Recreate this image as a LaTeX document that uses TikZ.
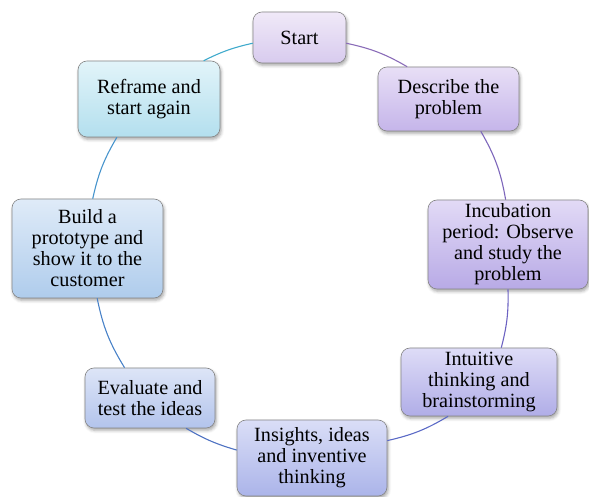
\documentclass[tikz,border=0pt]{standalone}
\usepackage{fontspec}
\setmainfont{Liberation Serif}
\usetikzlibrary{shadows.blur}

% box fills (top / bottom of each vertical gradient)
\definecolor{boxedge}{HTML}{858585}
\definecolor{startT}{HTML}{F0E9F8}\definecolor{startB}{HTML}{D8CBEE}
\definecolor{descT}{HTML}{E8DFF6}\definecolor{descB}{HTML}{C5B5EA}
\definecolor{incT}{HTML}{E2DAF6}\definecolor{incB}{HTML}{B8AAE6}
\definecolor{intT}{HTML}{DEDCF7}\definecolor{intB}{HTML}{B0ADE7}
\definecolor{insT}{HTML}{DADEF7}\definecolor{insB}{HTML}{ABB4E9}
\definecolor{evaT}{HTML}{DDE5F7}\definecolor{evaB}{HTML}{B3C4EC}
\definecolor{bldT}{HTML}{DFEBF8}\definecolor{bldB}{HTML}{AFCCEC}
\definecolor{refT}{HTML}{E2F4F9}\definecolor{refB}{HTML}{B3DFEE}
% arc colours, purple through blue to cyan
\definecolor{arcA}{HTML}{8A6CB8}
\definecolor{arcB}{HTML}{7D66BB}
\definecolor{arcC}{HTML}{6C62C2}
\definecolor{arcD}{HTML}{5A69C6}
\definecolor{arcE}{HTML}{4E72C2}
\definecolor{arcF}{HTML}{4982C8}
\definecolor{arcG}{HTML}{4794CC}
\definecolor{arcH}{HTML}{3FAACC}

\begin{document}
\begin{tikzpicture}[x=1pt,y=1pt,
  stage/.style={draw=boxedge, line width=0.6pt, rounded corners=9pt,
    align=center, inner sep=0pt,
    font=\rmfamily\fontsize{20.2}{21}\selectfont,
    blur shadow={shadow xshift=1.2pt, shadow yshift=-2.4pt,
                 shadow blur radius=3pt, shadow opacity=35}},
  link/.style={line width=1.1pt}]
\useasboundingbox (0,0) rectangle (589,497);

\node[stage, minimum width=93pt, minimum height=51pt,
      top color=startT, bottom color=startB] (start) at (299.5,459.5) {Start};
\node[stage, minimum width=141pt, minimum height=64pt,
      top color=descT, bottom color=descB] (describe) at (448.5,398)
      {Describe the\\problem};
\node[stage, minimum width=160pt, minimum height=89pt,
      top color=incT, bottom color=incB] (incubation) at (508,252.5)
      {Incubation\\period: Observe\\and study the\\problem};
\node[stage, minimum width=156pt, minimum height=68pt,
      top color=intT, bottom color=intB] (intuitive) at (479,115)
      {Intuitive\\thinking and\\brainstorming};
\node[stage, minimum width=150pt, minimum height=76pt,
      top color=insT, bottom color=insB] (insights) at (312,39)
      {Insights, ideas\\and inventive\\thinking};
\node[stage, minimum width=130pt, minimum height=60pt,
      top color=evaT, bottom color=evaB] (evaluate) at (150,99)
      {Evaluate and\\test the ideas};
\node[stage, minimum width=151pt, minimum height=99pt,
      top color=bldT, bottom color=bldB] (build) at (87.5,248.5)
      {Build a\\prototype and\\show it to the\\customer};
\node[stage, minimum width=142pt, minimum height=76pt,
      top color=refT, bottom color=refB] (reframe) at (149,398)
      {Reframe and\\start again};

% connecting arcs, clockwise round the cycle
\draw[link, arcA] (start.-7)       to[bend left=9]  (describe.142);
\draw[link, arcB] (describe.-45)   to[bend left=10] (incubation.93);
\draw[link, arcC] (incubation.-90) to[bend left=8]  (intuitive.57);
\draw[link, arcD] (intuitive.-132) to[bend left=9]  (insights.13);
\draw[link, arcE] (insights.174)   to[bend left=7]  (evaluate.-40);
\draw[link, arcF] (evaluate.130)   to[bend left=10] (build.-79);
\draw[link, arcG] (build.84)       to[bend left=9]  (reframe.-130);
\draw[link, arcH] (reframe.35)     to[bend left=7]  (start.187);
\end{tikzpicture}
\end{document}
